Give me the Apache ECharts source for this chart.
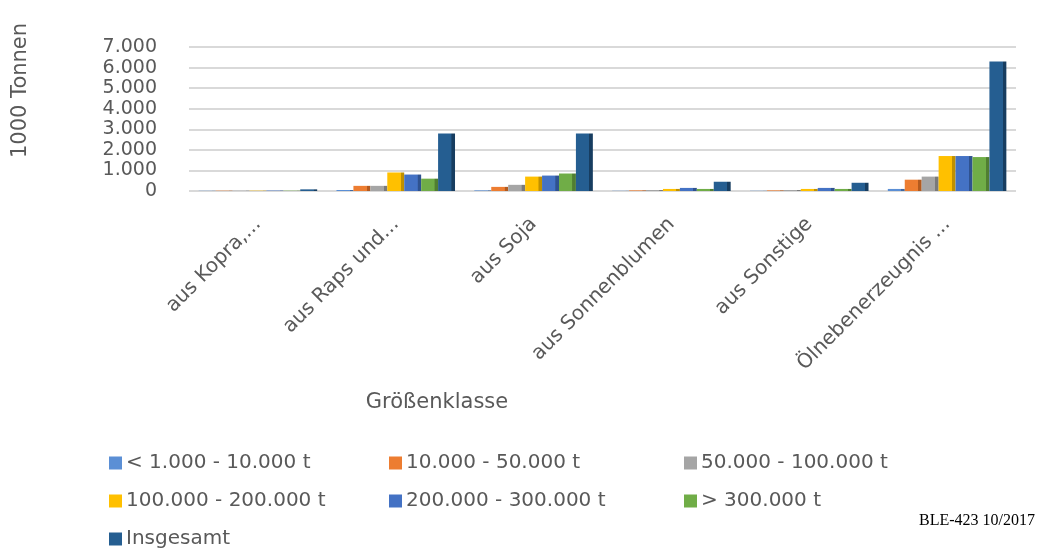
<!DOCTYPE html>
<html>
<head>
<meta charset="utf-8">
<script src="https://cdn.jsdelivr.net/npm/echarts@6/dist/echarts.min.js"></script>
<style>
html,body{margin:0;padding:0;background:#fff;}
#c{width:1047px;height:549px;}
</style>
</head>
<body>
<div id="c"></div>
<script>
const categories = ['aus Kopra,...', 'aus Raps und...', 'aus Soja', 'aus Sonnenblumen', 'aus Sonstige', 'Ölnebenerzeugnis ...'];
const seriesNames = ['< 1.000 - 10.000 t', '10.000 - 50.000 t', '50.000 - 100.000 t', '100.000 - 200.000 t', '200.000 - 300.000 t', '> 300.000 t', 'Insgesamt'];
const s1 = [10, 50, 30, 10, 10, 100];
const s2 = [15, 250, 200, 30, 30, 550];
const s3 = [15, 250, 300, 50, 50, 700];
const s4 = [15, 900, 700, 100, 100, 1700];
const s5 = [20, 800, 750, 150, 150, 1700];
const s6 = [15, 600, 850, 100, 100, 1650];
const s7 = [80, 2800, 2800, 450, 400, 6300];
const yTicks = [0, 1000, 2000, 3000, 4000, 5000, 6000, 7000];
const colors = ['#5B8FD5', '#ED7D31', '#A5A5A5', '#FFC000', '#4472C4', '#70AD47', '#255E91'];
const sideColors = ['#41689E', '#B35A1F', '#7A7A7A', '#BF9000', '#2F528F', '#507E32', '#173D60'];

const values = [s1, s2, s3, s4, s5, s6, s7];
const chart = echarts.init(document.getElementById('c'), null, {renderer: 'canvas'});
const font = '"DejaVu Sans", sans-serif';
const legendPos = [
  [104, 448], [384, 448], [679, 448],
  [104, 486], [384, 486], [679, 486],
  [104, 524]
];
const legends = seriesNames.map((n, i) => ({
  data: [n],
  left: legendPos[i][0],
  top: legendPos[i][1],
  itemWidth: 13,
  itemHeight: 13,
  itemGap: 0,
  icon: 'rect',
  itemStyle: {color: colors[i]},
  textStyle: {fontFamily: font, fontSize: 20, color: '#595959', padding: [0, 0, 0, -1]}
}));

chart.setOption({
  animation: false,
  color: colors,
  legend: legends,
  grid: {left: 189, right: 31, top: 47, bottom: 549 - 191, containLabel: false, outerBoundsMode: 'none'},
  xAxis: {
    type: 'category',
    data: categories,
    axisLine: {show: false},
    axisTick: {show: false},
    axisLabel: {
      rotate: 45, fontFamily: font, fontSize: 20, color: '#595959', margin: 30, interval: 0
    }
  },
  yAxis: {
    type: 'value',
    min: yTicks[0],
    max: yTicks[yTicks.length - 1],
    interval: 1000,
    axisLine: {show: false},
    axisTick: {show: false},
    splitLine: {lineStyle: {color: '#D9D9D9', width: 2}},
    axisLabel: {
      fontFamily: font, fontSize: 19, color: '#595959', margin: 32,
      lineHeight: 8, padding: [10, 0, 0, 0],
      showMinLabel: true, showMaxLabel: true, hideOverlap: false,
      formatter: v => v.toLocaleString('de-DE')
    }
  },
  graphic: [{
    type: 'text',
    right: 12,
    top: 513,
    style: {text: 'BLE-423 10/2017', font: '16px "Liberation Serif", serif', fill: '#000'}
  }, {
    type: 'text',
    x: 10,
    y: 158,
    rotation: Math.PI / 2,
    style: {text: '1000 Tonnen', font: '21px "DejaVu Sans", sans-serif', fill: '#595959', verticalAlign: 'top'}
  }, {
    type: 'text',
    x: 437,
    y: 403,
    style: {text: 'Größenklasse', font: '21px "DejaVu Sans", sans-serif', fill: '#595959', align: 'center', verticalAlign: 'middle'}
  }],
  series: seriesNames.map((n, i) => ({
    name: n,
    type: 'bar',
    data: values[i],
    barGap: '0%',
    barCategoryGap: '14%',
    itemStyle: {
      color: {
        type: 'linear', x: 0, y: 0, x2: 1, y2: 0,
        colorStops: [
          {offset: 0, color: colors[i]},
          {offset: 0.78, color: colors[i]},
          {offset: 0.8, color: sideColors[i]},
          {offset: 1, color: sideColors[i]}
        ]
      }
    }
  }))
});
</script>
</body>
</html>
